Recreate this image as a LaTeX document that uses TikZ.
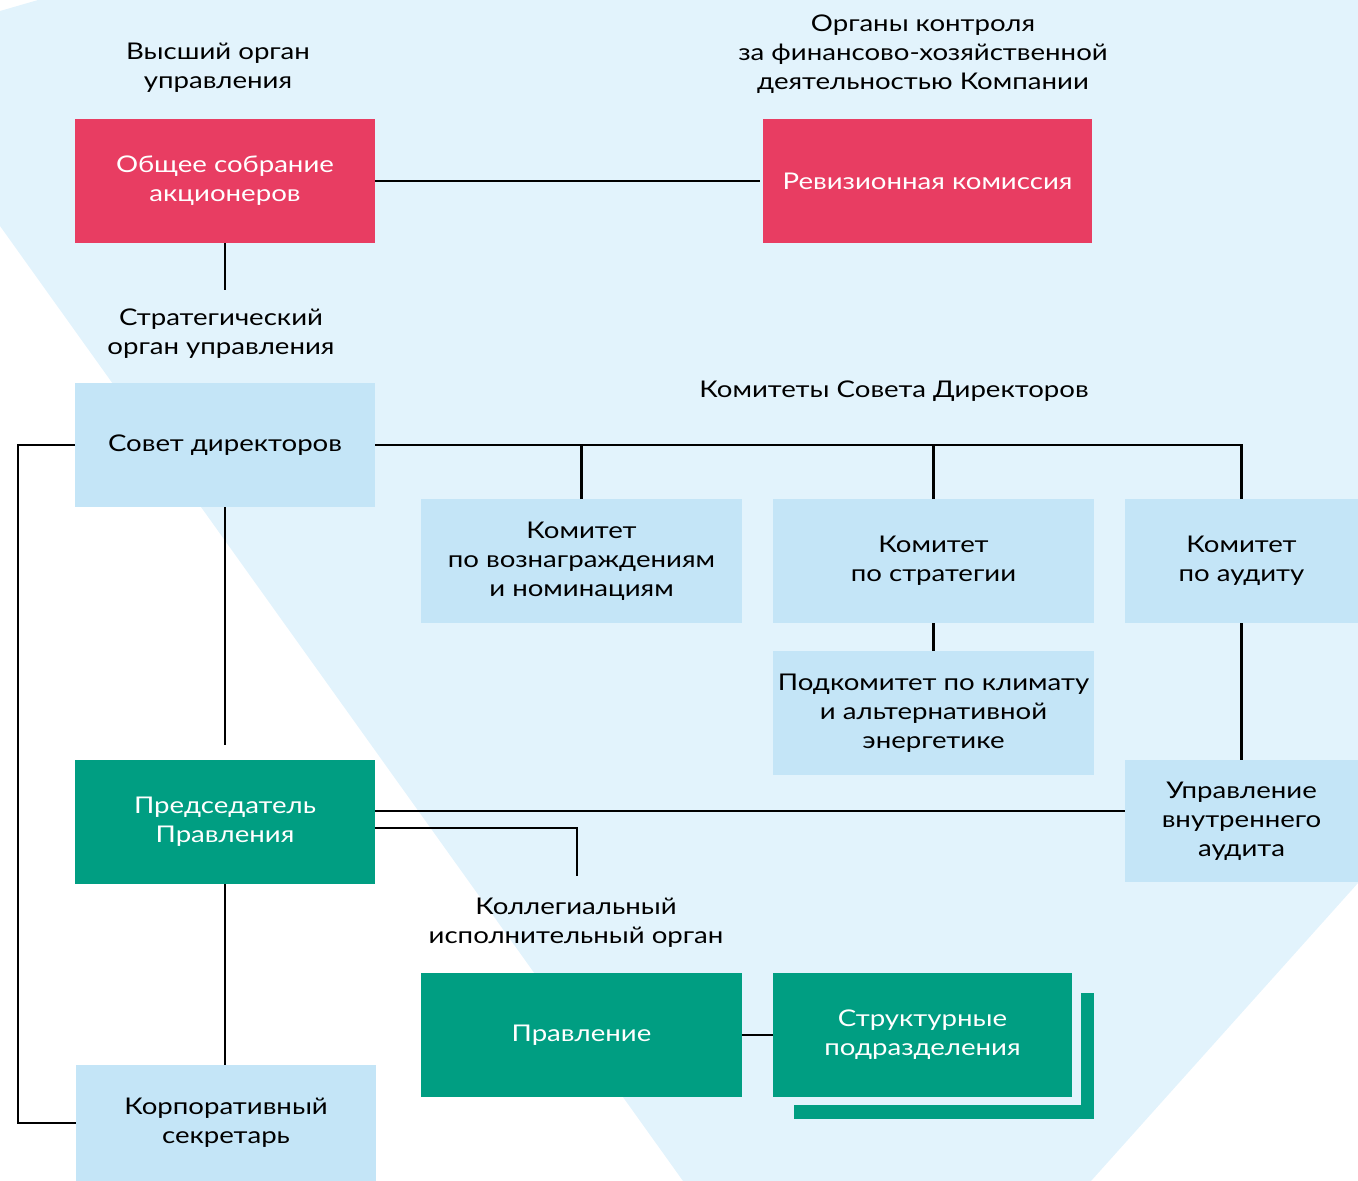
\documentclass[tikz,border=0pt]{standalone}
\usepackage{fontspec}
\setmainfont[FakeStretch=1.2]{Lato}
\definecolor{bgblue}{RGB}{226,243,252}
\definecolor{boxblue}{RGB}{196,229,247}
\definecolor{boxred}{RGB}{232,61,98}
\definecolor{boxgreen}{RGB}{0,158,130}
\begin{document}
\begin{tikzpicture}[x=1pt,y=-1pt,
  txt/.style={font=\fontsize{23}{29}\selectfont, align=center, inner sep=0pt},
  box/.style={txt, minimum width=#1, outer sep=0pt, minimum height=124pt},
  redbox/.style={box=#1, fill=boxred, text=white},
  bluebox/.style={box=#1, fill=boxblue, text=black},
  greenbox/.style={box=#1, fill=boxgreen, text=white},
  conn/.style={line width=2.6pt, draw=black}
]
\useasboundingbox (0,0) rectangle (1358,1181);
\fill[bgblue] (38,0) -- (1358,0) -- (1358,883) -- (1091,1181) -- (683,1181) -- (0,226) -- (0,11) -- cycle;

% labels
\node[txt] (lvysh) at (218,68) {Высший орган\\управления};
\node[txt] (lorg) at (923,54) {Органы контроля\\за финансово-хозяйственной\\деятельностью Компании};
\node[txt] (lstrat) at (221,334) {Стратегический\\орган управления};
\node[txt] (lkom) at (894,391) {Комитеты Совета Директоров};
\node[txt] (lkol) at (576,923) {Коллегиальный\\исполнительный орган};

% boxes
\node[redbox=300pt] (gsm) at (225,181) {Общее собрание\\акционеров};
\node[redbox=329pt] (rk) at (927.5,181) {Ревизионная комиссия};
\node[bluebox=300pt] (sd) at (225,445) {Совет директоров};
\node[bluebox=321pt] (kv) at (581.5,561) {Комитет\\по вознаграждениям\\и номинациям};
\node[bluebox=321pt] (ks) at (933.5,561) {Комитет\\по стратегии};
\node[bluebox=233pt] (ka) at (1241.5,561) {Комитет\\по аудиту};
\node[bluebox=321pt] (pk) at (933.5,713) {Подкомитет по климату\\и альтернативной\\энергетике};
\node[bluebox=233pt, minimum height=122pt] (uva) at (1241.5,821) {Управление\\внутреннего\\аудита};
\node[greenbox=300pt] (pp) at (225,822) {Председатель\\Правления};
\node[bluebox=300pt, minimum height=116pt] (kc) at (226,1123) {Корпоративный\\секретарь};
\node[greenbox=321pt] (pr) at (581.5,1035) {Правление};
\fill[boxgreen] (794,993) rectangle (1094,1119);
\fill[bgblue] (773,973) rectangle (1081,1105);
\node[greenbox=299pt] (sp) at (922.5,1035) {Структурные\\подразделения};

% connectors
\coordinate (lft) at (18,445);
\coordinate (kolend) at (577,876);
\draw[conn] (gsm.east) -- ([xshift=-3pt]rk.west);
\draw[conn] (gsm.south) -- ++(0,47);
\draw[conn] (sd.east) -- (ka.north |- sd.east) -- (ka.north);
\draw[conn] (kv.north) -- (kv.north |- sd.east);
\draw[conn] (ks.north) -- (ks.north |- sd.east);
\draw[conn] (ks.south) -- (pk.north);
\draw[conn] (ka.south) -- (uva.north);
\draw[conn] (sd.west) -- (lft) |- (kc.west);
\draw[conn] (sd.south) -- ([yshift=15pt]pp.north);
\draw[conn] ([yshift=11pt]pp.east) -- ([yshift=11pt]pp.east -| uva.west);
\draw[conn] ([yshift=-6pt]pp.east) -| (kolend);
\draw[conn] (pp.south) -- (pp.south |- kc.north);
\draw[conn] (pr.east) -- (sp.west);
\end{tikzpicture}
\end{document}
